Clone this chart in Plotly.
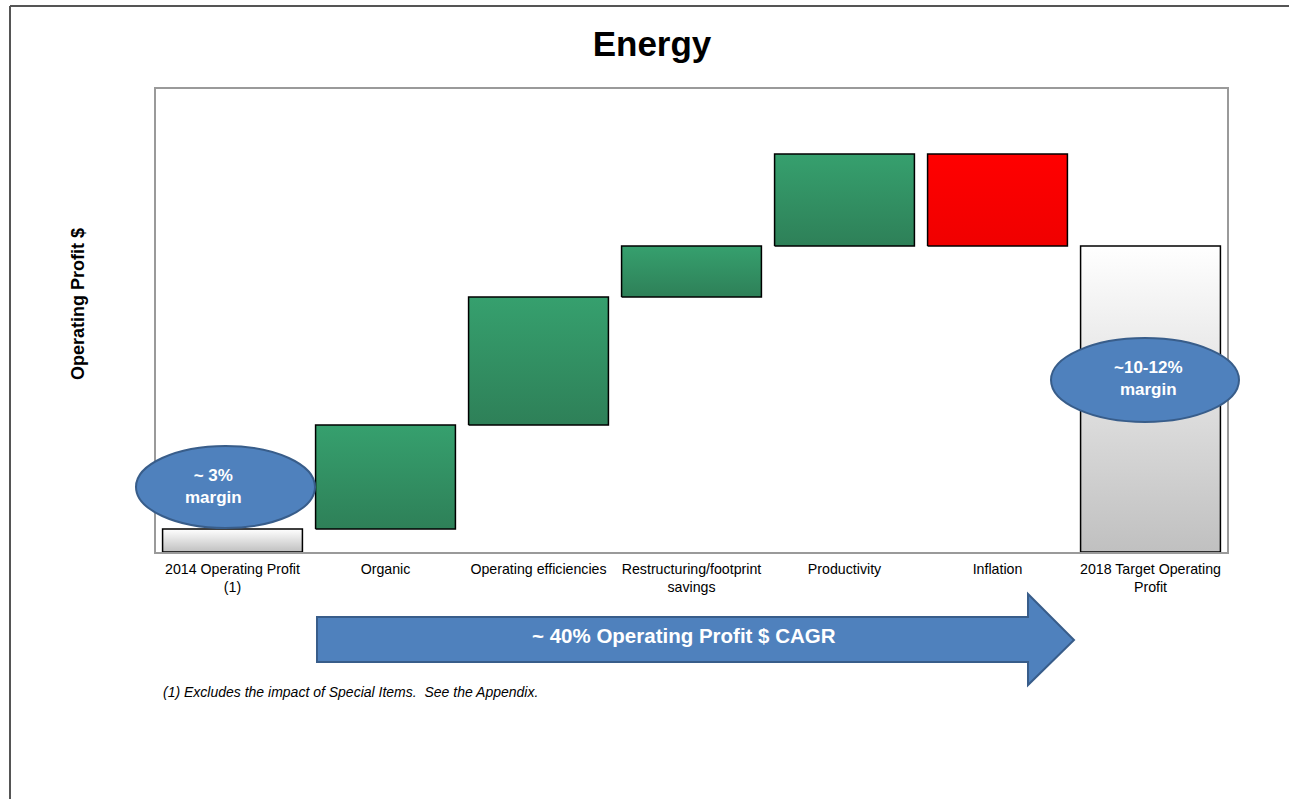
import plotly.graph_objects as go

# Waterfall data (relative operating profit units)
categories = [
    "2014 Operating Profit<br>(1)",
    "Organic",
    "Operating efficiencies",
    "Restructuring/footprint<br>savings",
    "Productivity",
    "Inflation",
    "2018 Target Operating<br>Profit",
]
start_value = 23
changes = [104, 128, 51, 92, -92]
end_value = 306

margin_labels = [["~ 3%", "margin"], ["~10-12%", "margin"]]
cagr_label = "~ 40% Operating Profit $ CAGR"
footnote = "(1) Excludes the impact of Special Items.  See the Appendix."

W, H = 1289, 799
PL, PR, PT, PB = 156, 1227, 89, 552  # plot area in pixels


def px_x(px):
    return (px - PL) / (PR - PL)


def px_y(py):
    return (PB - py) / (PB - PT)


GREEN = [[0, "#2E8058"], [1, "#36A06E"]]
RED = [[0, "#F00000"], [1, "#FF0000"]]
GREY = [[0, "#C0C0C0"], [1, "#FFFFFF"]]

# build the bar spans
spans = [(0, start_value, GREY)]
level = start_value
for c in changes:
    lo, hi = (level, level + c) if c >= 0 else (level + c, level)
    spans.append((lo, hi, GREEN if c >= 0 else RED))
    level += c
spans.append((0, end_value, GREY))

half = 0.457
fig = go.Figure()
for i, (lo, hi, cs) in enumerate(spans):
    fig.add_trace(go.Scatter(
        x=[i - half, i + half, i + half, i - half, i - half],
        y=[lo, lo, hi, hi, lo],
        mode="lines",
        fill="toself",
        fillgradient=dict(type="vertical", colorscale=cs),
        line=dict(color="black", width=1.5),
        hoverinfo="skip",
        showlegend=False,
    ))

shapes = []
# page frame
shapes.append(dict(type="line", xref="paper", yref="paper",
                   x0=px_x(10), x1=px_x(W + 5), y0=px_y(6), y1=px_y(6),
                   line=dict(color="#555555", width=2)))
shapes.append(dict(type="line", xref="paper", yref="paper",
                   x0=px_x(10), x1=px_x(10), y0=px_y(6), y1=px_y(H + 5),
                   line=dict(color="#555555", width=2)))

# margin ellipses
ellipses = [(225.5, 487, 89.5, 41), (1145, 380, 94, 42)]
for cx, cy, rx, ry in ellipses:
    shapes.append(dict(type="circle", xref="paper", yref="paper",
                       x0=px_x(cx - rx), x1=px_x(cx + rx),
                       y0=px_y(cy + ry), y1=px_y(cy - ry),
                       fillcolor="#4F81BD", line=dict(color="#385D8A", width=2)))

# CAGR block arrow
pts = [(317, 617), (1028, 617), (1028, 594), (1074, 640), (1028, 685),
       (1028, 662), (317, 662)]
path = "M " + " L ".join(f"{px_x(a):.5f},{px_y(b):.5f}" for a, b in pts) + " Z"
shapes.append(dict(type="path", xref="paper", yref="paper", path=path,
                   fillcolor="#4F81BD", line=dict(color="#385D8A", width=2)))


def bold_lines(lines):
    return "<br>".join(f"<b>{s}</b>" for s in lines)


annotations = [
    dict(text="<b>Operating Profit $</b>", x=px_x(78), y=px_y(304),
         textangle=-90, font=dict(size=18, color="black")),
    dict(text=bold_lines(margin_labels[0]), x=px_x(213), y=px_y(486),
         font=dict(size=17, color="white")),
    dict(text=bold_lines(margin_labels[1]), x=px_x(1148), y=px_y(378),
         font=dict(size=17, color="white")),
    dict(text=f"<b>{cagr_label}</b>", x=px_x(684), y=px_y(635),
         font=dict(size=20.5, color="white")),
]
for a in annotations:
    a.update(xref="paper", yref="paper", showarrow=False,
             xanchor="center", yanchor="middle")
annotations.append(
    dict(text=f"<i>{footnote}</i>", x=px_x(161), y=px_y(692),
         xref="paper", yref="paper", xanchor="left", yanchor="middle",
         showarrow=False, font=dict(size=14, color="black")))

fig.update_layout(
    width=W, height=H, autosize=False,
    margin=dict(l=PL, r=W - PR, t=PT, b=H - PB, pad=0),
    paper_bgcolor="white", plot_bgcolor="white",
    font=dict(family="Arial, Liberation Sans, sans-serif", color="black"),
    title=dict(text="<b>Energy</b>", x=652 / W, y=1 - 44 / H,
               xanchor="center", yanchor="middle",
               font=dict(size=35, color="black")),
    xaxis=dict(range=[-0.5, len(categories) - 0.5],
               tickvals=list(range(len(categories))), ticktext=categories,
               showgrid=False, zeroline=False, ticks="", ticklabelstandoff=3,
               showline=True, mirror=True, linecolor="#9A9A9A", linewidth=1.5,
               tickfont=dict(size=14.2, color="black"), fixedrange=True),
    yaxis=dict(range=[0, PB - PT], showticklabels=False, showgrid=False,
               zeroline=False, ticks="",
               showline=True, mirror=True, linecolor="#9A9A9A", linewidth=1.5,
               fixedrange=True),
    shapes=shapes,
    annotations=annotations,
    showlegend=False,
)

fig.write_html("out.html", config={"displayModeBar": False},
               post_script="document.body.style.margin='0';")
